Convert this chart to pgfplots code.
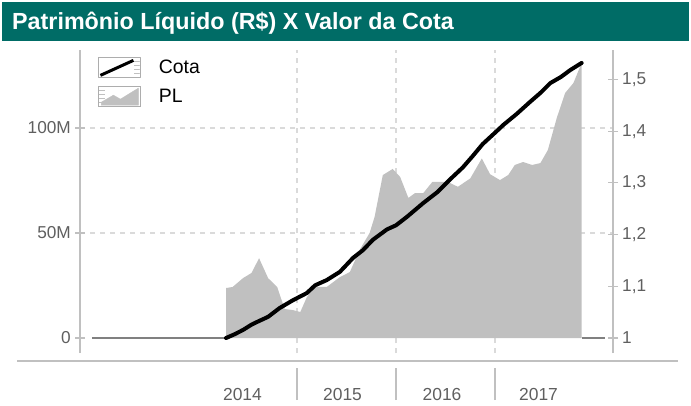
\documentclass[border=0pt]{standalone}
\usepackage{fontspec}
\setmainfont{Liberation Sans}
\usepackage{pgfplots}
\pgfplotsset{compat=1.18}
\definecolor{teal0}{RGB}{0,108,102}
\definecolor{plgray}{RGB}{192,192,192}
\definecolor{axgray}{RGB}{192,192,192}
\definecolor{gridgray}{RGB}{218,218,218}
\definecolor{txtgray}{RGB}{95,95,95}
\definecolor{zerogray}{RGB}{128,128,128}
\begin{document}
\begin{tikzpicture}[x=1bp,y=1bp]
\useasboundingbox (0,0) rectangle (691,405);
\fill[teal0] (2,364) rectangle (689,403);
\node[anchor=base west, inner sep=0pt, text=white, font=\fontsize{23.4}{28}\selectfont\bfseries] at (12,376) {Patrimônio Líquido (R\$) X Valor da Cota};
\draw[axgray, line width=1.5bp] (17,44) -- (678,44);
\foreach \x in {297,396,495} \draw[axgray, line width=1.5bp] (\x,5) -- (\x,37);
\node[anchor=base, inner sep=0pt, text=txtgray, font=\fontsize{17.5}{20}\selectfont] at (242.5,5) {2014};
\node[anchor=base, inner sep=0pt, text=txtgray, font=\fontsize{17.5}{20}\selectfont] at (342.5,5) {2015};
\node[anchor=base, inner sep=0pt, text=txtgray, font=\fontsize{17.5}{20}\selectfont] at (442,5) {2016};
\node[anchor=base, inner sep=0pt, text=txtgray, font=\fontsize{17.5}{20}\selectfont] at (538.5,5) {2017};

\begin{axis}[
  at={(80bp,52bp)}, anchor=south west, scale only axis,
  width=533bp, height=303bp,
  xmin=-14.30, xmax=50.30, ymin=-7.14, ymax=137.14,
  axis y line*=left, axis x line*=bottom,
  x axis line style={draw=none},
  y axis line style={axgray, line width=1.6bp},
  xtick={12,24,36}, xticklabels={}, xmajorgrids,
  major x tick style={draw=none},
  ytick={50,100}, yticklabels={50M,100M}, ymajorgrids,
  extra y ticks={0}, extra y tick labels={0},
  extra y tick style={grid=none},
  major grid style={gridgray, dash pattern=on 5bp off 5bp, line width=1.2bp},
  tick align=center, major tick length=10bp,
  y tick style={axgray, line width=1.2bp},
  yticklabel style={text=txtgray, font=\fontsize{17.3}{20}\selectfont, inner xsep=0pt, xshift=-4bp},
  /pgf/number format/assume math mode=true,
  clip=false,
]
\addplot[fill=plgray, draw=none] coordinates {
(3.4,0) (3.4,23.8) (4.2,24.3) (5.45,28.5) (6.5,31) (7.4,38) (8.5,28.5)
(9.6,24.3) (10.5,13.8) (11.5,13.3) (12.4,12.4) (13.2,19.5) (14.2,24.3)
(15.6,24.3) (17.2,29) (18.4,31.4) (19.6,42) (20.8,50) (21.4,57.6)
(22.4,77.6) (23.6,80.5) (24.5,76.7) (25.5,66.7) (26.3,69) (27.3,69)
(28.4,74.3) (30.3,74.3) (31.5,72) (33,76) (34.4,85.5) (35.4,78)
(36.6,75.2) (37.6,77.6) (38.4,82.4) (39.4,83.8) (40.5,82.4) (41.5,83.3)
(42.4,89.5) (43.5,105) (44.5,116.7) (45.5,121.4) (46.5,131) (46.5,0)
} \closedcycle;
\addplot[zerogray, line width=1.5bp] coordinates {(-12.85,0) (3.4,0)};
\addplot[zerogray, line width=1.5bp] coordinates {(46.5,0) (49.3,0)};
\end{axis}

\begin{axis}[
  at={(80bp,52bp)}, anchor=south west, scale only axis,
  width=533bp, height=303bp,
  xmin=-14.30, xmax=50.30, ymin=0.971, ymax=1.557,
  axis y line*=right, axis x line=none,
  y axis line style={axgray, line width=1.6bp},
  ytick={1,1.1,1.2,1.3,1.4,1.5},
  yticklabels={1,{1,1},{1,2},{1,3},{1,4},{1,5}},
  tick align=center, major tick length=10bp,
  y tick style={axgray, line width=1.2bp},
  yticklabel style={text=txtgray, font=\fontsize{17.3}{20}\selectfont, inner xsep=0pt, xshift=4bp},
  /pgf/number format/assume math mode=true,
  clip=false,
  legend cell align=left,
  legend style={at={(axis description cs:0.0338,0.977)}, anchor=north west,
    draw=none, fill=none, inner sep=0pt, outer sep=0pt, row sep=8bp, column sep=18bp,
    font=\fontsize{19.5}{22}\selectfont,
    nodes={inner sep=0pt}},
]
\addplot[black, line width=4bp, line join=round, line cap=round,
  legend image code/.code={
    \draw[draw=axgray!90!black, line width=0.8bp, fill=white] (0bp,-10bp) rectangle (42bp,10bp);
    \draw[black, line width=3bp, line cap=butt] (2bp,-8bp) -- (35bp,7bp);
    \foreach \yy in {-6,-2,2,6} \draw[axgray, line width=0.7bp] (36bp,\yy bp) -- (41bp,\yy bp);
  }] coordinates {
(3.4,1.000) (4.4,1.007) (5.45,1.0155) (6.4,1.025) (7.15,1.031) (8.5,1.041)
(9.9,1.058) (11.5,1.073) (13.2,1.087) (14.2,1.102) (15.6,1.112) (17.2,1.128)
(18.8,1.155) (20,1.17) (21.2,1.19) (22.9,1.21) (24.0,1.218) (25.3,1.234)
(27.3,1.261) (29,1.282) (30.5,1.306) (32.1,1.33) (33.3,1.352) (34.5,1.375)
(36.2,1.4) (37,1.412) (38.6,1.433) (40.2,1.456) (41.5,1.474) (42.7,1.493)
(44,1.505) (45.1,1.518) (46.5,1.532)
};
\addlegendentry{Cota}
\addlegendimage{legend image code/.code={
    \draw[draw=axgray!90!black, line width=0.8bp, fill=white] (0bp,-10bp) rectangle (42bp,10bp);
    \fill[plgray] (3bp,-9bp) -- (3bp,-6bp) -- (15bp,1bp) -- (22bp,-3bp) -- (35bp,5bp) -- (40bp,8bp) -- (40bp,-9bp) -- cycle;
    \foreach \yy in {-6,-2,2,6} \draw[axgray, line width=0.7bp] (1bp,\yy bp) -- (7bp,\yy bp);
  }}
\addlegendentry{PL}
\end{axis}
\end{tikzpicture}
\end{document}
